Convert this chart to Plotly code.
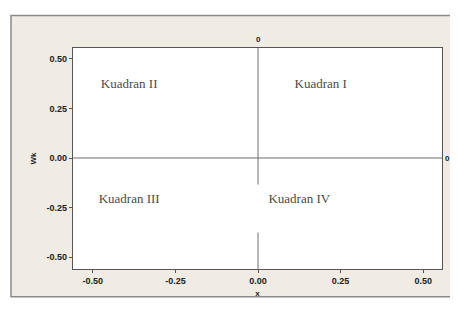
import plotly.graph_objects as go

# Data
quadrant_labels = ["Kuadran I", "Kuadran II", "Kuadran III", "Kuadran IV"]
quadrant_x = [0.19, -0.39, -0.39, 0.125]
quadrant_y = [0.37, 0.37, -0.21, -0.21]
ref_x = 0.0
ref_y = 0.0
tick_vals = [-0.50, -0.25, 0.00, 0.25, 0.50]
x_range = [-0.56, 0.557]
y_range = [-0.56, 0.555]

fig = go.Figure()

fig.add_trace(go.Scatter(
    x=quadrant_x, y=quadrant_y, text=quadrant_labels, mode="text",
    textfont=dict(family="Liberation Serif, Times New Roman, serif", size=13, color="#4a4a4a"),
    hoverinfo="skip", showlegend=False,
))

# outer frame (Minitab-style)
fig.add_shape(type="rect", xref="paper", yref="paper", x0=-0.168, x1=1.2, y0=-0.125, y1=1.147,
              fillcolor="#f0ebe3", line=dict(color="#8a8a8a", width=1.5), layer="below")
fig.add_shape(type="rect", xref="paper", yref="paper", x0=0, x1=1, y0=0, y1=1,
              fillcolor="white", line=dict(width=0), layer="below")

# reference lines
fig.add_shape(type="line", xref="paper", yref="y", x0=0, x1=1, y0=ref_y, y1=ref_y,
              line=dict(color="#6e6e6e", width=1))
fig.add_shape(type="line", xref="x", yref="y", x0=ref_x, x1=ref_x, y0=-0.134, y1=0.58,
              line=dict(color="#6e6e6e", width=1))
fig.add_shape(type="line", xref="x", yref="y", x0=ref_x, x1=ref_x, y0=y_range[0], y1=-0.376,
              line=dict(color="#6e6e6e", width=1))

fig.add_annotation(x=ref_x, y=1.07, xref="x", yref="paper", text="<b>0</b>", showarrow=False,
                   font=dict(family="Liberation Sans, Arial", size=8, color="#222"))
fig.add_annotation(x=1.027, y=ref_y, xref="paper", yref="y", text="<b>0</b>", showarrow=False,
                   font=dict(family="Liberation Sans, Arial", size=8, color="#222"))

axis_font = dict(family="Liberation Sans, Arial", size=9, color="#222222")
fig.update_xaxes(range=x_range, tickvals=tick_vals, ticktext=[f"<b>{v:.2f}</b>" for v in tick_vals],
                 showgrid=False, zeroline=False, showline=True, linecolor="#555555", linewidth=1.2,
                 mirror=True, ticks="outside", ticklen=3, tickcolor="#555", tickfont=axis_font,
                 title=dict(text="<b>x</b>", font=dict(family="Liberation Sans, Arial", size=8, color="#222"), standoff=5))
fig.update_yaxes(range=y_range, tickvals=tick_vals, ticktext=[f"<b>{v:.2f}</b>" for v in tick_vals],
                 showgrid=False, zeroline=False, showline=True, linecolor="#555555", linewidth=1.2,
                 mirror=True, ticks="outside", ticklen=3, tickcolor="#555", tickfont=axis_font,
                 title=dict(text="<b>Wk</b>", font=dict(family="Liberation Sans, Arial", size=8, color="#222"), standoff=8))

# page has an 8px body margin: figure is offset by 8px, so size/margins compensate
fig.update_layout(width=450, height=301, margin=dict(l=65, r=16, t=40, b=36),
                  paper_bgcolor="white", plot_bgcolor="rgba(0,0,0,0)", showlegend=False)

fig.write_html("out.html")
